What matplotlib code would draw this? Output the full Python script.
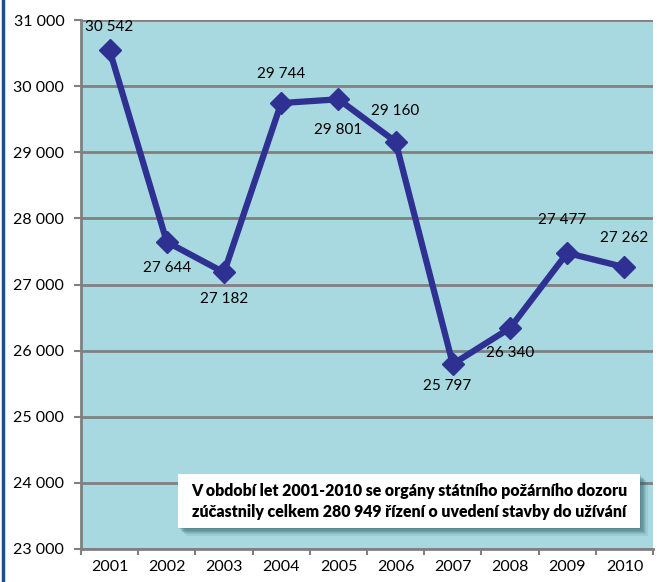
import matplotlib
matplotlib.use("Agg")
import matplotlib.pyplot as plt
from matplotlib.patches import Rectangle
from matplotlib.lines import Line2D

years = ["2001", "2002", "2003", "2004", "2005", "2006", "2007", "2008", "2009", "2010"]
counts = [30542, 27644, 27182, 29744, 29801, 29160, 25797, 26340, 27477, 27262]
y_ticks = [23000, 24000, 25000, 26000, 27000, 28000, 29000, 30000, 31000]
note_lines = ["V období let 2001-2010 se orgány státního požárního dozoru",
              "zúčastnily celkem 280 949 řízení o uvedení stavby do užívání"]

# label offsets in points (dx, dy) for each point's value label
label_offsets = [(0, 17), (0, -19), (0, -19), (0, 21), (0, -22),
                 (0, 22), (-4, -16), (0, -18), (-4, 24), (0, 21)]

def fmt(v):
    return f"{v:,}".replace(",", " ")

plt.rcParams['font.family'] = ['Lato', 'DejaVu Sans']

fig = plt.figure(figsize=(6.65, 5.82), dpi=100)
fig.patch.set_facecolor("white")
ax = fig.add_axes([81/665, 1 - 549/582, 572/665, 529/582])
ax.set_facecolor("#a8d9e0")

x = list(range(len(years)))
ax.set_xlim(-0.5, len(years) - 0.5)
ax.set_ylim(23000, 31000)

ax.set_yticks(y_ticks)
ax.set_yticklabels([fmt(v) for v in y_ticks], fontsize=11.5, color="black")
ax.yaxis.grid(True, color="#808080", linewidth=2)
ax.set_axisbelow(True)

ax.set_xticks(x)
ax.set_xticklabels(years, fontsize=11.5)
ax.set_xticks([i - 0.5 for i in range(len(years) + 1)], minor=True)
ax.tick_params(axis="x", which="major", length=0, pad=8)
ax.tick_params(axis="x", which="minor", length=4, color="#808080", width=1.5)
ax.tick_params(axis="y", length=5, color="#808080", width=1.5, pad=7)

for side in ("top", "right"):
    ax.spines[side].set_visible(False)
for side in ("left", "bottom"):
    ax.spines[side].set_color("#808080")
    ax.spines[side].set_linewidth(2)

ax.plot(x, counts, color="#2e3192", linewidth=4.5, marker="D", markersize=11,
        markerfacecolor="#2e3192", markeredgecolor="#2e3192", zorder=5)

for xi, v, (dx, dy) in zip(x, counts, label_offsets):
    ax.annotate(fmt(v), (xi, v), xytext=(dx, dy), textcoords="offset points",
                ha="center", va="center", fontsize=11, color="black", zorder=6)

# note box with soft shadow
bx0, bx1 = (178 - 81) / 572, (640 - 81) / 572
by0, by1 = (549 - 528) / 529, (549 - 474) / 529
for k, a in enumerate([0.10, 0.12, 0.14, 0.16, 0.18, 0.2]):
    off = (6 - k) * 0.0022
    ax.add_patch(Rectangle((bx0 + off, by0 - off * 1.08), bx1 - bx0, by1 - by0,
                           transform=ax.transAxes, facecolor="#2c5a66", alpha=a,
                           edgecolor="none", zorder=7))
ax.add_patch(Rectangle((bx0, by0), bx1 - bx0, by1 - by0, transform=ax.transAxes,
                       facecolor="white", edgecolor="none", zorder=8))
for line, frac in zip(note_lines, (0.68, 0.30)):
    ax.text((bx0 + bx1) / 2, by0 + (by1 - by0) * frac, line, transform=ax.transAxes,
            ha="center", va="center", fontsize=11.4, fontweight="heavy", zorder=9,
            family=['Lato', 'DejaVu Sans'])

# dark border strip on the left edge
fig.add_artist(Line2D([3/665, 3/665], [0, 1], transform=fig.transFigure,
                      color="#1f4e86", linewidth=2.5))

fig.savefig("out.png", dpi=100)
